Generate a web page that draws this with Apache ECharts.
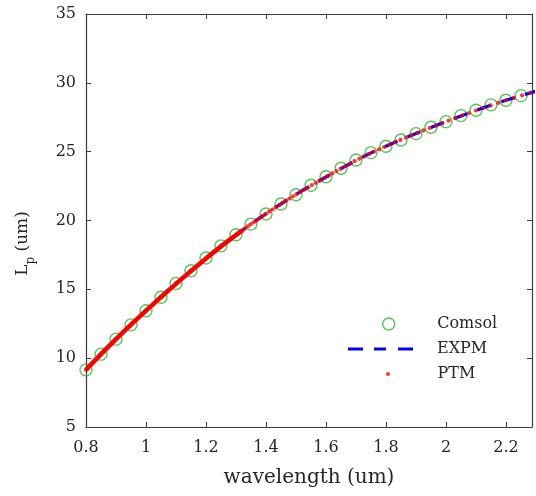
<!DOCTYPE html>
<html>
<head>
<meta charset="utf-8">
<script src="https://cdn.jsdelivr.net/npm/echarts@6/dist/echarts.min.js"></script>
<style>html,body{margin:0;padding:0;background:#fff}#c{width:536px;height:496px}</style>
</head>
<body>
<div id="c"></div>
<script>
// Comsol samples
const comsolX = [0.80,0.85,0.90,0.95,1.00,1.05,1.10,1.15,1.20,1.25,1.30,1.35,1.40,1.45,1.50,1.55,1.60,1.65,1.70,1.75,1.80,1.85,1.90,1.95,2.00,2.05,2.10,2.15,2.20,2.25];
const comsolY = [9.15,10.29,11.38,12.42,13.44,14.43,15.43,16.35,17.28,18.16,18.96,19.74,20.47,21.20,21.87,22.56,23.18,23.79,24.40,24.93,25.39,25.85,26.31,26.77,27.18,27.62,28.01,28.40,28.74,29.07];
// EXPM curve
const expmX = [0.80,0.85,0.90,0.95,1.00,1.05,1.10,1.15,1.20,1.25,1.30,1.35,1.40,1.45,1.50,1.55,1.60,1.65,1.70,1.75,1.80,1.85,1.90,1.95,2.00,2.05,2.10,2.15,2.20,2.25,2.30];
const expmY = [9.15,10.29,11.38,12.43,13.45,14.44,15.40,16.33,17.24,18.12,18.95,19.74,20.49,21.21,21.89,22.54,23.16,23.77,24.36,24.91,25.40,25.87,26.32,26.76,27.18,27.59,27.99,28.37,28.73,29.07,29.39];
// PTM samples
const ptmX = [0.80,0.85,0.90,0.95,1.00,1.05,1.10,1.15,1.20,1.25,
  1.3013,1.3106,1.3199,1.3294,1.3391,1.3488,1.3588,1.3688,1.3790,1.3894,
  1.3999,1.4106,1.4215,1.4325,1.4437,1.4551,1.4666,1.4783,1.4903,1.5024,
  1.5147,1.5272,1.5399,1.5529,1.5660,1.5794,1.5931,1.6069,1.6210,1.6354,
  1.6500,1.6648,1.6800,1.6954,1.7111,1.7270,1.7434,1.7600,1.7769,1.7941,
  1.8117,1.8297,1.8480,1.8666,1.8857,1.9051,1.9250,1.9452,1.9659,1.9871,
  2.0087,2.0307,2.0533,2.0764,2.1000,2.1241,2.1488,2.1741,2.2000,2.2265,
  2.2537,2.2815];
const ptmY = [9.15,10.29,11.38,12.43,13.45,14.44,15.40,16.33,17.24,18.12,
  18.97,19.12,19.26,19.41,19.57,19.72,19.87,20.02,20.18,20.33,
  20.49,20.64,20.80,20.96,21.12,21.28,21.44,21.59,21.76,21.92,
  22.08,22.24,22.41,22.58,22.74,22.90,23.07,23.24,23.42,23.59,
  23.77,23.94,24.12,24.31,24.48,24.66,24.84,25.01,25.17,25.34,
  25.51,25.68,25.85,26.02,26.19,26.36,26.54,26.72,26.89,27.07,
  27.25,27.43,27.62,27.80,27.99,28.17,28.36,28.54,28.73,28.91,
  29.09,29.27];
// axes
const xMin = 0.8, xMax = 2.2867, xStep = 0.2;
const yMin = 5, yMax = 35, yStep = 5;
const seriesNames = ['Comsol', 'EXPM', 'PTM'];

const zip = (a, b) => a.map((v, i) => [v, b[i]]);
const ptmAll = zip(ptmX, ptmY);
const ptmDense = ptmAll.filter(p => p[0] <= 1.32);

const FONT = 'DejaVu Serif';
const AX = '#3a3a3a';
const TXT = '#262626';
const GREEN = '#28b828';
const legendText = (pad) => ({fontFamily: FONT, fontSize: 16, color: TXT, padding: [0, 0, 0, pad]});

const chart = echarts.init(document.getElementById('c'), null, {renderer: 'canvas'});
const axisCommon = {
  axisLine: {show: true, lineStyle: {color: AX, width: 1.2}},
  axisTick: {show: true, inside: true, length: 5, lineStyle: {color: AX, width: 1}},
  splitLine: {show: false}
};
chart.setOption({
  animation: false,
  backgroundColor: '#fff',
  grid: {left: 86, top: 14, right: 4, bottom: 69, containLabel: false},
  legend: [
    {data: [{name: seriesNames[0], icon: 'circle', itemStyle: {color: 'rgba(0,0,0,0)', borderColor: GREEN, borderWidth: 1.4}}],
     left: 382, top: 316, padding: 0, itemWidth: 67, itemHeight: 12, selectedMode: false,
     textStyle: legendText(10)},
    {data: [{name: seriesNames[1], icon: 'path://M0,0L15,0L15,3L0,3ZM26,0L38,0L38,3L26,3ZM50,0L65,0L65,3L50,3Z',
             itemStyle: {color: '#0000ff'}}],
     left: 348, top: 341, padding: 0, itemWidth: 65, itemHeight: 16, selectedMode: false,
     textStyle: legendText(19)},
    {data: [{name: seriesNames[2], icon: 'circle'}],
     left: 386, top: 366, padding: 0, itemWidth: 67, itemHeight: 4, selectedMode: false,
     textStyle: legendText(11)}
  ],
  xAxis: [
    Object.assign({}, axisCommon, {
      type: 'value', min: xMin, max: xMax, interval: xStep, position: 'bottom',
      name: 'wavelength (um)', nameLocation: 'middle', nameGap: 41,
      nameTextStyle: {fontFamily: FONT, fontSize: 20, color: TXT},
      axisLabel: {fontFamily: FONT, fontSize: 16, color: TXT, margin: 13, showMaxLabel: false,
        formatter: v => (Math.abs(v / xStep - Math.round(v / xStep)) < 1e-6 ? String(Math.round(v * 10) / 10) : '')}
    }),
    Object.assign({}, axisCommon, {
      type: 'value', min: xMin, max: xMax, interval: xStep, position: 'top',
      axisLabel: {show: false}
    })
  ],
  yAxis: [
    Object.assign({}, axisCommon, {
      type: 'value', min: yMin, max: yMax, interval: yStep, position: 'left',
      name: '{m|L}{s|p}{m| (um)}', nameLocation: 'middle', nameGap: 55,
      nameTextStyle: {fontFamily: FONT, fontSize: 17, color: TXT, padding: [0, 46, 0, 0],
        rich: {m: {fontFamily: FONT, fontSize: 17, color: TXT, lineHeight: 22, verticalAlign: 'bottom'},
               s: {fontFamily: FONT, fontSize: 12, color: TXT, lineHeight: 22, verticalAlign: 'bottom', padding: [0, 0, -6, 0]}}},
      axisLabel: {fontFamily: FONT, fontSize: 16, color: TXT, margin: 10}
    }),
    Object.assign({}, axisCommon, {
      type: 'value', min: yMin, max: yMax, interval: yStep, position: 'right',
      axisLabel: {show: false}
    })
  ],
  series: [
    {
      name: seriesNames[0], type: 'scatter', data: zip(comsolX, comsolY),
      symbol: 'circle', symbolSize: 12,
      itemStyle: {color: 'rgba(0,0,0,0)', borderColor: GREEN, borderWidth: 1.4},
      z: 2
    },
    {
      name: seriesNames[1], type: 'line', data: zip(expmX, expmY), smooth: 0.3,
      symbol: 'none', showSymbol: false,
      itemStyle: {color: '#0000ff'},
      lineStyle: {color: '#0000ff', width: 3.2, type: [14, 11]},
      z: 3
    },
    {
      name: 'PTM-dense', type: 'line', data: ptmDense, smooth: 0.3,
      symbol: 'none', showSymbol: false,
      lineStyle: {color: '#ff0000', width: 4.5},
      z: 4
    },
    {
      name: seriesNames[2], type: 'scatter', data: ptmAll,
      symbol: 'circle', symbolSize: 4.2,
      itemStyle: {color: '#ff0000'},
      z: 5
    }
  ]
});
</script>
</body>
</html>
